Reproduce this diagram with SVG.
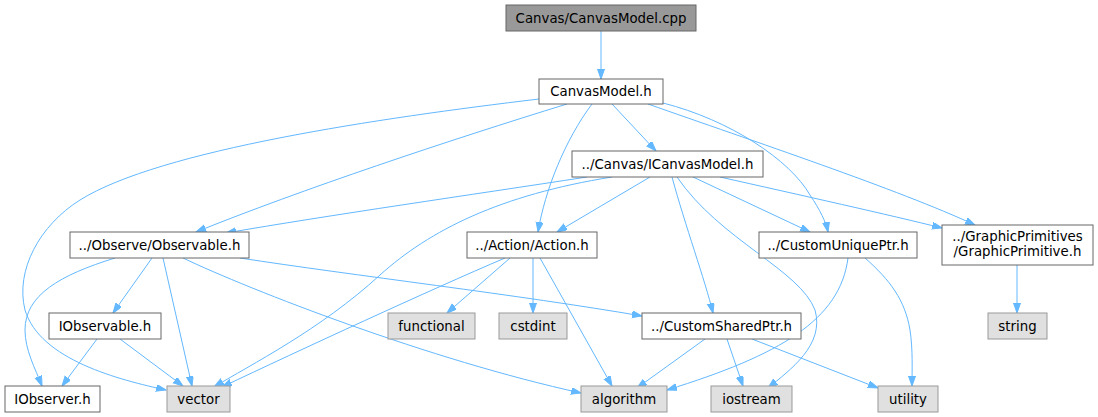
<svg xmlns="http://www.w3.org/2000/svg" width="1098" height="417" viewBox="0 0 1098 417">
<style>
.node rect{fill:#ffffff;stroke:#666666;stroke-width:1}
.node.root rect{fill:#999999;stroke:#666666}
.node.sys rect{fill:#e0e0e0;stroke:#999999}
.node text{font-family:"DejaVu Sans",sans-serif;font-size:13.33px;fill:#000000;text-anchor:middle}
#edges path{fill:none;stroke:#63b8ff;stroke-width:1;marker-end:url(#arrow)}
</style>
<defs>
<marker id="arrow" markerUnits="userSpaceOnUse" markerWidth="11" markerHeight="8" refX="10" refY="3.5" orient="auto">
<path d="M0,0 L10,3.5 L0,7 z" fill="#63b8ff" stroke="#63b8ff" stroke-width="1"/>
</marker>
</defs>
<rect width="1098" height="417" fill="#ffffff"/>
<g id="edges">
<path d="M601,31 L601,79"/>
<path d="M539,99 C380,118 160,150 80,200 C40,225 15,270 25,310 C40,360 120,380 166,390"/>
<path d="M567,104 C450,140 300,190 196,232"/>
<path d="M592,104 C565,140 545,190 538,232"/>
<path d="M612,104 L656,151"/>
<path d="M663,103 C730,120 790,160 810,195 C820,210 826,222 828,232"/>
<path d="M648,104 C750,140 900,190 975,225"/>
<path d="M587,177 C470,195 330,215 226,233"/>
<path d="M612,177 C500,195 430,230 380,275 C320,330 250,365 214,387"/>
<path d="M650,177 L557,232"/>
<path d="M693,177 L810,232"/>
<path d="M720,177 C800,195 890,215 942,228"/>
<path d="M672,177 C685,225 705,280 713,313"/>
<path d="M677,177 C720,240 800,270 815,310 C825,345 790,370 768,388"/>
<path d="M115,258 C60,275 25,295 25,330 C25,350 35,368 42,386"/>
<path d="M152,258 L113,313"/>
<path d="M163,258 L192,386"/>
<path d="M183,258 C250,290 430,360 581,393"/>
<path d="M240,258 C350,275 520,295 642,316"/>
<path d="M510,258 L447,313"/>
<path d="M533,258 L533,313"/>
<path d="M540,258 L612,386"/>
<path d="M505,258 C430,290 300,350 222,387"/>
<path d="M848,258 C840,320 780,355 667,390"/>
<path d="M865,258 C890,280 905,300 910,330 C913,350 912,370 912,386"/>
<path d="M1017,265 L1017,313"/>
<path d="M97,339 L62,386"/>
<path d="M120,339 L183,386"/>
<path d="M705,339 L637,388"/>
<path d="M727,339 L743,386"/>
<path d="M752,339 L878,388"/>
</g>
<g id="n1" class="node root"><rect x="506" y="5" width="190" height="26"/><text x="601" y="22.5">Canvas/CanvasModel.cpp</text></g>
<g id="n2" class="node"><rect x="539" y="79" width="124" height="25"/><text x="601" y="96">CanvasModel.h</text></g>
<g id="n3" class="node"><rect x="572" y="151" width="191" height="26"/><text x="667.5" y="168.5">../Canvas/ICanvasModel.h</text></g>
<g id="n4" class="node"><rect x="70" y="232" width="179" height="26"/><text x="159.5" y="249.5">../Observe/Observable.h</text></g>
<g id="n5" class="node"><rect x="467" y="232" width="130" height="26"/><text x="532" y="249.5">../Action/Action.h</text></g>
<g id="n6" class="node"><rect x="759" y="232" width="158" height="26"/><text x="838" y="249.5">../CustomUniquePtr.h</text></g>
<g id="n7" class="node"><rect x="942" y="225" width="151" height="40"/><text x="1017.5" y="241">../GraphicPrimitives</text><text x="1017.5" y="256">/GraphicPrimitive.h</text></g>
<g id="n8" class="node"><rect x="49" y="313" width="112" height="26"/><text x="105" y="330.5">IObservable.h</text></g>
<g id="n9" class="node"><rect x="5" y="386" width="95" height="26"/><text x="52.5" y="403.5">IObserver.h</text></g>
<g id="n10" class="node sys"><rect x="167" y="386" width="63" height="26"/><text x="198.5" y="403.5">vector</text></g>
<g id="n11" class="node sys"><rect x="388" y="313" width="87" height="26"/><text x="431.5" y="330.5">functional</text></g>
<g id="n12" class="node sys"><rect x="499" y="313" width="68" height="26"/><text x="533" y="330.5">cstdint</text></g>
<g id="n13" class="node"><rect x="642" y="313" width="159" height="26"/><text x="721.5" y="330.5">../CustomSharedPtr.h</text></g>
<g id="n14" class="node sys"><rect x="581" y="386" width="86" height="26"/><text x="624" y="403.5">algorithm</text></g>
<g id="n15" class="node sys"><rect x="711" y="386" width="81" height="26"/><text x="751.5" y="403.5">iostream</text></g>
<g id="n16" class="node sys"><rect x="878" y="386" width="60" height="26"/><text x="908" y="403.5">utility</text></g>
<g id="n17" class="node sys"><rect x="988" y="313" width="59" height="26"/><text x="1017.5" y="330.5">string</text></g>
</svg>
